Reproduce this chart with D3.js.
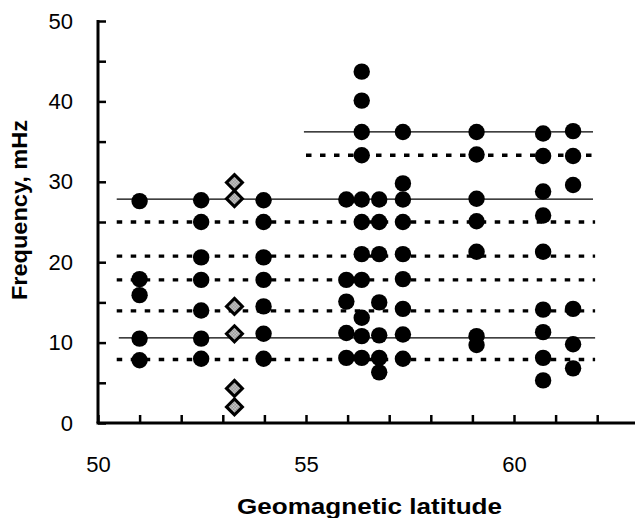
<!DOCTYPE html>
<html>
<head>
<meta charset="utf-8">
<script src="https://cdn.jsdelivr.net/npm/d3@7"></script>
<style>
  html, body { margin: 0; padding: 0; background: #fff; }
  svg { display: block; }
  text { font-family: "Liberation Sans", Arial, sans-serif; fill: #000; }
</style>
</head>
<body>
<svg id="chart" width="635" height="518"></svg>
<script>
// ---- data ----
const xTicks = [50, 51, 52, 53, 54, 55, 56, 57, 58, 59, 60, 61, 62];
const xTickLabels = [50, 55, 60];
const yTicks = [0, 5, 10, 15, 20, 25, 30, 35, 40, 45, 50];
const yTickLabels = [0, 10, 20, 30, 40, 50];

const circleLats = [51.0, 52.48, 53.98, 55.97, 56.34, 56.76, 57.33, 59.1, 60.7, 61.42];
const circleFreqs = [
  [27.6, 17.9, 15.9, 10.5, 7.8],
  [27.7, 25.0, 20.6, 17.8, 14.0, 10.5, 8.0],
  [27.7, 25.0, 20.6, 17.8, 14.5, 11.1, 8.0],
  [27.8, 17.8, 15.1, 11.2, 8.1],
  [43.7, 40.1, 36.2, 33.3, 27.8, 25.0, 21.0, 17.8, 13.1, 10.8, 8.1],
  [27.8, 25.0, 21.0, 15.0, 10.9, 8.1, 6.3],
  [36.2, 29.8, 27.8, 25.0, 21.0, 17.9, 14.2, 11.0, 8.0],
  [36.2, 33.4, 27.9, 25.1, 21.3, 10.8, 9.7],
  [36.0, 33.2, 28.8, 25.8, 21.3, 14.1, 11.3, 8.1, 5.3],
  [36.3, 33.2, 29.6, 14.2, 9.8, 6.8]
];

const diamondLat = 53.28;
const diamondFreqs = [29.9, 27.9, 14.5, 11.1, 4.3, 2.0];

// harmonic levels: [frequency, start latitude, end latitude]
const solidLevels = [[36.2, 54.95, 61.9], [27.85, 50.45, 61.9], [10.6, 50.5, 61.95]];
const dashedLevels = [[33.3, 55.0, 61.95], [25.0, 50.45, 61.95], [20.75, 50.45, 61.95],
                      [17.8, 50.45, 61.95], [13.95, 50.45, 61.95], [7.9, 50.45, 61.95]];

// ---- drawing ----
const svg = d3.select("#chart");
const x = d3.scaleLinear().domain([50, 62]).range([98, 597.2]);
const y = d3.scaleLinear().domain([0, 50]).range([423, 21]);

const defs = svg.append("defs");
const pat = defs.append("pattern").attr("id", "hatch")
  .attr("width", 3).attr("height", 3).attr("patternUnits", "userSpaceOnUse");
pat.append("rect").attr("width", 3).attr("height", 3).attr("fill", "#e8e8e8");
pat.append("rect").attr("width", 1.5).attr("height", 1.5).attr("fill", "#777");
pat.append("rect").attr("x", 1.5).attr("y", 1.5).attr("width", 1.5).attr("height", 1.5).attr("fill", "#777");

// level lines
svg.append("g").selectAll("line").data(solidLevels).join("line")
  .attr("x1", d => x(d[1])).attr("x2", d => x(d[2]))
  .attr("y1", d => y(d[0])).attr("y2", d => y(d[0]))
  .attr("stroke", "#000").attr("stroke-width", 1.3);

svg.append("g").selectAll("line").data(dashedLevels).join("line")
  .attr("x1", d => x(d[1])).attr("x2", d => x(d[2]))
  .attr("y1", d => y(d[0])).attr("y2", d => y(d[0]))
  .attr("stroke", "#000").attr("stroke-width", 3.4)
  .attr("stroke-dasharray", "5.5,8.5");

// axes
const xAxis = d3.axisBottom(x).tickValues(xTicks).tickSizeInner(-8).tickSizeOuter(0)
  .tickPadding(33).tickFormat(d => xTickLabels.includes(d) ? d : "");
const gx = svg.append("g").attr("transform", `translate(0,${y(0)})`).call(xAxis);
gx.select(".domain").remove();
gx.selectAll(".tick line").attr("stroke", "#000").attr("stroke-width", 2.5);
gx.selectAll(".tick text").attr("font-size", 22).attr("font-family", "Liberation Sans, Arial, sans-serif");
gx.append("line").attr("x1", x(50) - 1.5).attr("x2", 635).attr("y1", 0).attr("y2", 0)
  .attr("stroke", "#000").attr("stroke-width", 3);

const yAxis = d3.axisLeft(y).tickValues(yTicks).tickSizeInner(-8).tickSizeOuter(0)
  .tickPadding(25).tickFormat(d => yTickLabels.includes(d) ? d : "");
const gy = svg.append("g").attr("transform", `translate(${x(50)},0)`).call(yAxis);
gy.select(".domain").remove();
gy.selectAll(".tick line").attr("stroke", "#000").attr("stroke-width", 2.5);
gy.selectAll(".tick text").attr("font-size", 22).attr("font-family", "Liberation Sans, Arial, sans-serif");
gy.append("line").attr("x1", 0).attr("x2", 0).attr("y1", y(0)).attr("y2", y(50) - 1)
  .attr("stroke", "#000").attr("stroke-width", 3);

// circles
const circleData = circleLats.flatMap((lat, i) => circleFreqs[i].map(f => ({lat, f})));
svg.append("g").selectAll("circle").data(circleData).join("circle")
  .attr("cx", d => x(d.lat)).attr("cy", d => y(d.f)).attr("r", 8.2)
  .attr("fill", "#000");

// diamonds
const dsz = 8;
svg.append("g").selectAll("path").data(diamondFreqs).join("path")
  .attr("transform", d => `translate(${x(diamondLat)},${y(d)})`)
  .attr("d", `M0,${-dsz}L${dsz},0L0,${dsz}L${-dsz},0Z`)
  .attr("fill", "url(#hatch)").attr("stroke", "#000").attr("stroke-width", 3)
  .attr("stroke-linejoin", "miter");

// titles
svg.append("text").attr("x", 237).attr("y", 514)
  .attr("font-size", 22).attr("font-weight", "bold")
  .attr("textLength", 265).attr("lengthAdjust", "spacingAndGlyphs")
  .text("Geomagnetic latitude");

svg.append("text").attr("transform", "translate(27,300) rotate(-90)")
  .attr("font-size", 22).attr("font-weight", "bold")
  .attr("textLength", 180).attr("lengthAdjust", "spacingAndGlyphs")
  .text("Frequency, mHz");
</script>
</body>
</html>
